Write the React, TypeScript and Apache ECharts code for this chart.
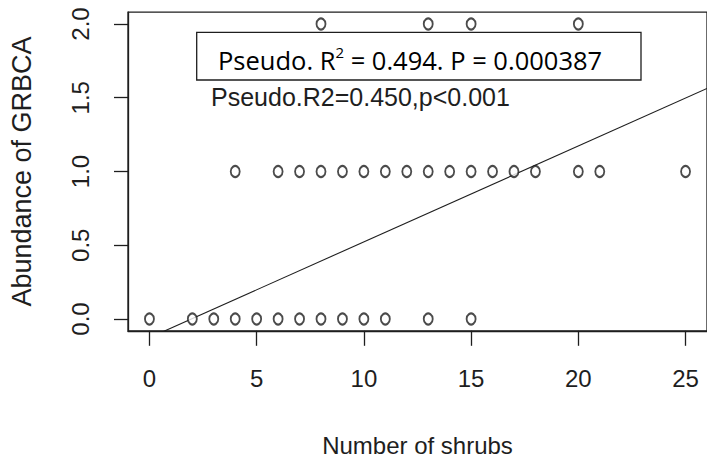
import React, { useEffect, useRef } from "react";
import * as echarts from "echarts";

// Number of shrubs (x) and abundance of GRBCA (y)
const xAtZero = [0, 2, 3, 4, 5, 6, 7, 8, 9, 10, 11, 13, 15];
const xAtOne = [4, 6, 7, 8, 9, 10, 11, 12, 13, 14, 15, 16, 17, 18, 20, 21, 25];
const xAtTwo = [8, 13, 15, 20];

// Fitted line
const fitIntercept = -0.127;
const fitSlope = 0.065;
const fitX = [-1, 26];

const xTicks = [0, 5, 10, 15, 20, 25];
const yTicks = [0, 0.5, 1, 1.5, 2];

const boxText = "Pseudo. R{s|2} = 0.494. P = 0.000387";
const subText = "Pseudo.R2=0.450,p<0.001";
const xTitle = "Number of shrubs";
const yTitle = "Abundance of GRBCA";

export default function App() {
  const ref = useRef<HTMLDivElement>(null);
  useEffect(() => {
    document.body.style.margin = "0";
    const chart = echarts.init(ref.current!, undefined, { renderer: "svg" });
    const points: number[][] = [
      ...xAtZero.map((x) => [x, 0]),
      ...xAtOne.map((x) => [x, 1]),
      ...xAtTwo.map((x) => [x, 2]),
    ];
    const fit = fitX.map((x) => [x, fitIntercept + fitSlope * x]);
    const ink = "#1e1e1e";
    const font = "'Liberation Sans', Arial, sans-serif";
    chart.setOption({
      animation: false,
      grid: {
        left: 126.4,
        top: 12.2,
        width: 583.2,
        height: 318.6,
        show: true,
        borderColor: ink,
        borderWidth: 1.3,
        backgroundColor: "transparent",
      },
      xAxis: {
        type: "value",
        min: -1,
        max: 26,
        splitLine: { show: false },
        axisLine: { show: true, onZero: false, lineStyle: { color: ink, width: 1.3 } },
        axisTick: { show: true, length: 15, lineStyle: { color: ink, width: 1.3 }, customValues: xTicks },
        axisLabel: {
          customValues: xTicks,
          fontSize: 24,
          fontFamily: font,
          color: ink,
          margin: 36,
        },
        name: xTitle,
        nameLocation: "middle",
        nameGap: 103,
        nameTextStyle: { fontSize: 24, fontFamily: font, color: ink },
      },
      yAxis: {
        type: "value",
        min: -0.08,
        max: 2.08,
        splitLine: { show: false },
        axisLine: { show: true, onZero: false, lineStyle: { color: ink, width: 1.3 } },
        axisTick: { show: true, length: 14, lineStyle: { color: ink, width: 1.3 }, customValues: yTicks },
        axisLabel: {
          customValues: yTicks,
          rotate: 90,
          fontSize: 24,
          fontFamily: font,
          color: ink,
          margin: 36,
          formatter: (v: number) => v.toFixed(1),
        },
        name: yTitle,
        nameLocation: "middle",
        nameGap: 93,
        nameRotate: 90,
        nameTextStyle: { fontSize: 27, fontFamily: font, color: ink },
      },
      series: [
        {
          type: "scatter",
          data: points,
          symbol: "emptyCircle",
          symbolSize: [9, 11],
          itemStyle: { color: ink, borderColor: ink, borderWidth: 1.2 },
          z: 3,
        },
        {
          type: "line",
          data: fit,
          showSymbol: false,
          symbol: "none",
          lineStyle: { color: ink, width: 1.1 },
          z: 2,
        },
      ],
      graphic: [
        {
          type: "rect",
          shape: { x: 196.7, y: 32.3, width: 444.3, height: 47.7 },
          style: { fill: "#ffffff", stroke: ink, lineWidth: 1.3 },
          z: 10,
        },
        {
          type: "text",
          x: 218,
          y: 44,
          z: 11,
          style: {
            text: boxText,
            fontSize: 25.5,
            fontFamily: "'Open Sans', Lato, sans-serif",
            fill: "#000",
            lineHeight: 32,
            rich: {
              s: { fontSize: 15, fontFamily: "'Open Sans', Lato, sans-serif", verticalAlign: "top", lineHeight: 24, fill: "#000" },
            },
          },
        },
        {
          type: "text",
          x: 211,
          y: 84,
          z: 11,
          style: {
            text: subText,
            fontSize: 25,
            fontFamily: font,
            fill: ink,
          },
        },
      ],
    });
    return () => chart.dispose();
  }, []);
  return (
    <div
      ref={ref}
      style={{ position: "absolute", left: 0, top: 0, width: 707, height: 465 }}
    />
  );
}
